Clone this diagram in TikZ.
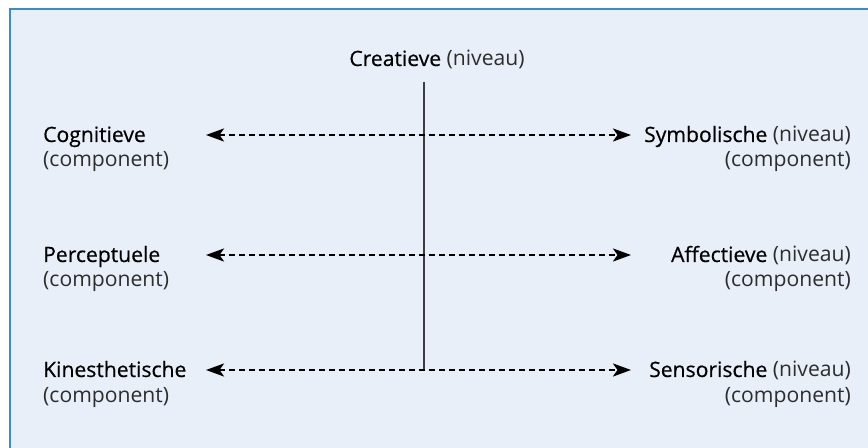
\documentclass[tikz,border=0pt]{standalone}
\usepackage{fontspec}
\setmainfont{Open Sans}
\usetikzlibrary{arrows.meta}
\definecolor{boxfill}{RGB}{232,239,248}
\definecolor{boxline}{RGB}{58,140,208}
\definecolor{axisline}{RGB}{60,60,66}
\definecolor{softtext}{RGB}{45,45,45}
\newcommand{\niv}[1]{\textcolor{softtext}{#1}}
\newcommand{\hw}[1]{{\addfontfeature{FakeBold=0.5}#1}}
\begin{document}
\begin{tikzpicture}[x=1bp,y=-1bp,
  lbl/.style={inner sep=0pt, font=\fontsize{21.2}{25}\selectfont, text=black},
  lblw/.style={lbl, anchor=base west},
  lble/.style={lbl, anchor=base east},
  dasharrow/.style={line width=2.5bp, dash pattern=on 6bp off 4bp,
     {Stealth[length=18bp,width=13bp,inset=4.5bp]}-{Stealth[length=18bp,width=13bp,inset=4.5bp]}},
  axis/.style={line width=1.5bp, draw=axisline}]
\useasboundingbox (0,0) rectangle (868,448);
\fill[boxfill] (10,9) rectangle (870,450);
\draw[boxline, line width=1.5bp] (10,452) -- (10,9) -- (870,9);

% top label
\node[lbl, anchor=base] (creat) at (437,66) {\hw{Creatieve} \niv{(niveau)}};

% left labels
\node[lblw] (cog)  at (43,142) {\hw{Cognitieve}};
\node[lblw] (cogc) at (43,167) {\niv{(component)}};
\node[lblw] (per)  at (43,262) {\hw{Perceptuele}};
\node[lblw] (perc) at (43,287) {\niv{(component)}};
\node[lblw] (kin)  at (43,377) {\hw{Kinesthetische}};
\node[lblw] (kinc) at (43,402) {\niv{(component)}};

% right labels
\node[lble] (sym)  at (851,142) {\hw{Symbolische} \niv{(niveau)}};
\node[lble] (symc) at (851,167) {\niv{(component)}};
\node[lble] (aff)  at (851,262) {\hw{Affectieve} \niv{(niveau)}};
\node[lble] (affc) at (851,287) {\niv{(component)}};
\node[lble] (sen)  at (851,377) {\hw{Sensorische} \niv{(niveau)}};
\node[lble] (senc) at (851,402) {\niv{(component)}};

% arrow end points
\coordinate (l1) at (206,135);
\coordinate (r1) at (631,135);
\coordinate (l2) at (206,255);
\coordinate (r2) at (631,255);
\coordinate (l3) at (206,370);
\coordinate (r3) at (631,370);
\coordinate (vtop) at (424,82);
\coordinate (vbot) at (424,370);

\draw[axis] (vtop) -- (vbot);
\draw[dasharrow] (l1) -- (r1);
\draw[dasharrow] (l2) -- (r2);
\draw[dasharrow] (l3) -- (r3);
\end{tikzpicture}
\end{document}
